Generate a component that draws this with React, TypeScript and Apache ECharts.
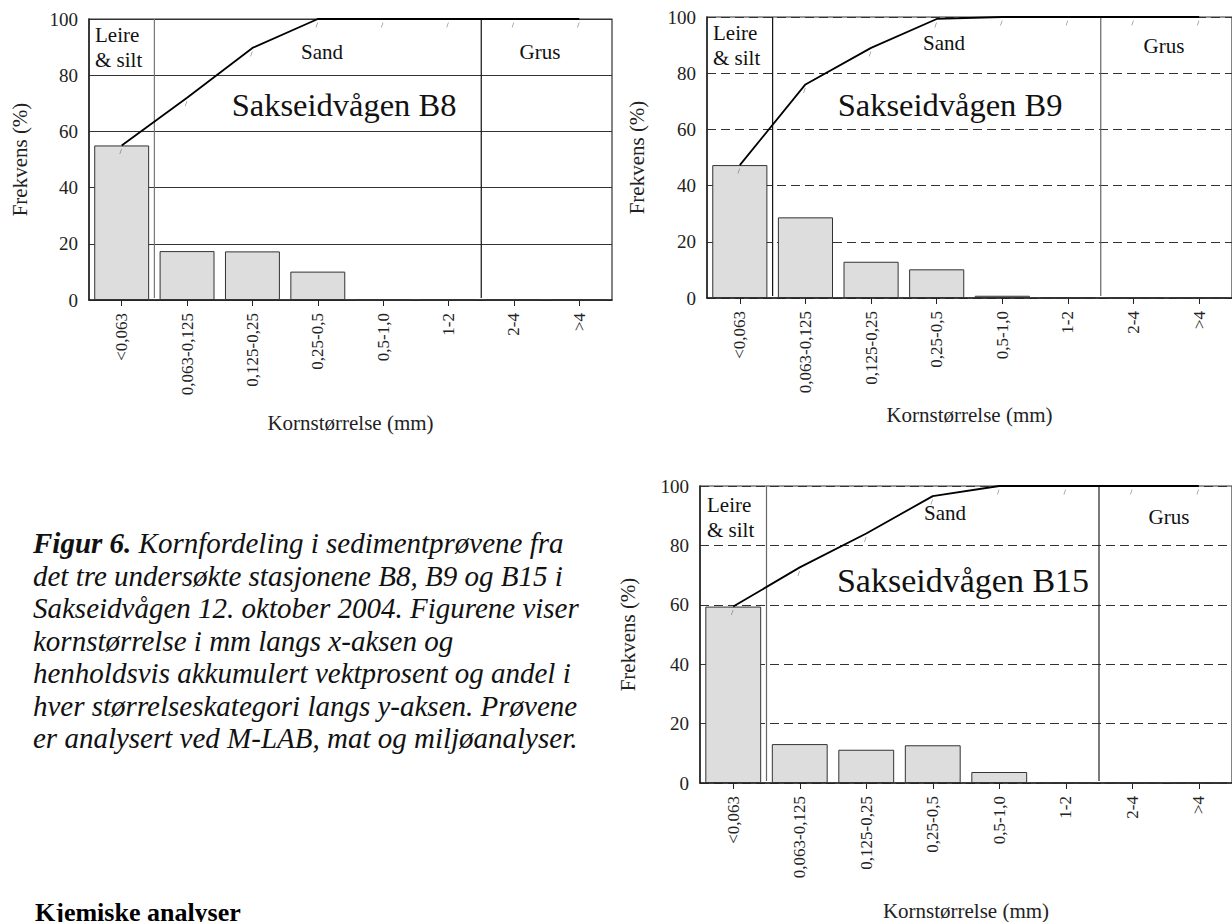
import React, { useEffect, useRef } from "react";
import * as echarts from "echarts";

// ---- data ----
const categories = ["<0,063", "0,063-0,125", "0,125-0,25", "0,25-0,5", "0,5-1,0", "1-2", "2-4", ">4"];

const b8Freq = [55, 17.4, 17.3, 10.1, 0, 0, 0, 0];
const b8Cum = [55, 72, 89.7, 100, 100, 100, 100, 100];

const b9Freq = [47.3, 28.7, 12.9, 10.2, 0.8, 0, 0, 0];
const b9Cum = [47.3, 76, 89, 99.3, 100, 100, 100, 100];

const b15Freq = [59.4, 13.1, 11.2, 12.7, 3.7, 0, 0, 0];
const b15Cum = [59.4, 72.6, 84, 96.6, 100, 100, 100, 100];

const yTicks = { min: 0, max: 100, interval: 20 };
// class boundaries (in category units): Leire & silt | Sand | Grus
const dividerPositions = [1, 6];

const stationTitles = ["Sakseidvågen B8", "Sakseidvågen B9", "Sakseidvågen B15"];
const classLabels = { clay: "Leire\n& silt", sand: "Sand", gravel: "Grus" };
const xName = "Kornstørrelse (mm)";
const yName = "Frekvens (%)";

const captionLines = [
  "det tre undersøkte stasjonene B8, B9 og B15 i",
  "Sakseidvågen 12. oktober 2004. Figurene viser",
  "kornstørrelse i mm langs x-aksen og",
  "henholdsvis akkumulert vektprosent og andel i",
  "hver størrelseskategori langs y-aksen. Prøvene",
  "er analysert ved M-LAB, mat og miljøanalyser.",
];
const captionHead = "Figur 6.";
const captionFirst = " Kornfordeling i sedimentprøvene fra";
const heading = "Kjemiske analyser";

const FONT = "'Liberation Serif', 'Times New Roman', Times, serif";

type Panel = {
  freq: number[];
  cum: number[];
  left: number;
  top: number;
  width: number;
  height: number;
  dashed: boolean;
  xNameGap: number;
  yNameGap: number;
  dividerColors: string[];
};

const panels: Panel[] = [
  { freq: b8Freq, cum: b8Cum, left: 89, top: 19, width: 523, height: 281, dashed: false, xNameGap: 112, yNameGap: 59, dividerColors: ["#777", "#111"] },
  { freq: b9Freq, cum: b9Cum, left: 707, top: 17, width: 530, height: 281, dashed: true, xNameGap: 106, yNameGap: 60, dividerColors: ["#111", "#666"] },
  { freq: b15Freq, cum: b15Cum, left: 700, top: 486, width: 542, height: 298, dashed: true, xNameGap: 117, yNameGap: 62, dividerColors: ["#666", "#222"] },
];

function buildOption() {
  const grid = panels.map((p) => ({
    left: p.left,
    top: p.top,
    width: p.width,
    height: p.height,
    show: true,
    borderColor: "#333",
    borderWidth: 1.2,
    backgroundColor: "transparent",
    containLabel: false,
  }));

  const catAxes = panels.map((p, i) => ({
    type: "category",
    gridIndex: i,
    data: categories,
    boundaryGap: true,
    axisLine: { show: true, lineStyle: { color: "#222", width: 1.5 } },
    axisTick: { show: true, alignWithLabel: true, length: 6, lineStyle: { color: "#222", width: 1 } },
    axisLabel: { rotate: 90, margin: 13, interval: 0, fontSize: 17, fontFamily: FONT, color: "#222" },
    splitLine: { show: false },
    name: xName,
    nameLocation: "middle",
    nameGap: p.xNameGap,
    nameTextStyle: { fontSize: 21, fontFamily: FONT, color: "#222" },
  }));
  const valAxes = panels.map((_p, i) => ({
    type: "value",
    gridIndex: i,
    min: 0,
    max: categories.length,
    show: false,
  }));

  const yAxis = panels.map((p, i) => ({
    type: "value",
    gridIndex: i,
    min: yTicks.min,
    max: yTicks.max,
    interval: yTicks.interval,
    axisLine: { show: true, lineStyle: { color: "#222", width: 1.5 } },
    axisTick: { show: false },
    axisLabel: { margin: 11, fontSize: 19, fontFamily: FONT, color: "#222" },
    splitLine: {
      show: true,
      lineStyle: { color: "#333", width: 1.2, type: p.dashed ? [9, 5] : "solid" },
    },
    name: yName,
    nameLocation: "middle",
    nameRotate: 90,
    nameGap: p.yNameGap,
    nameTextStyle: { fontSize: 21, fontFamily: FONT, color: "#222" },
  }));

  const series: any[] = [];
  panels.forEach((p, i) => {
    series.push({
      type: "bar",
      xAxisIndex: i,
      yAxisIndex: i,
      data: p.freq,
      barCategoryGap: "16%",
      itemStyle: { color: "#dddddd", borderColor: "#333", borderWidth: 1 },
      z: 2,
      silent: true,
    });
    series.push({
      type: "line",
      xAxisIndex: i,
      yAxisIndex: i,
      data: p.cum,
      symbol: "none",
      lineStyle: { color: "#000", width: 1.8 },
      z: 4,
      silent: true,
    });
    series.push({
      type: "scatter",
      xAxisIndex: i,
      yAxisIndex: i,
      data: p.cum,
      symbol: "path://M1.6,0 L2.2,0 L0.6,10 L0,10 Z",
      symbolSize: [2.4, 5],
      symbolOffset: [-1, 6],
      itemStyle: { color: "#666" },
      z: 3,
      silent: true,
    });
    dividerPositions.forEach((d, k) => {
      series.push({
        type: "line",
        xAxisIndex: panels.length + i,
        yAxisIndex: i,
        data: [
          [d, 0.7],
          [d, 100],
        ],
        symbol: "none",
        lineStyle: { color: p.dividerColors[k], width: 1.2 },
        z: 3,
        silent: true,
      });
    });
  });

  const txt = (x: number, y: number, text: string, size: number, align = "center", extra: any = {}) => ({
    type: "text",
    x,
    y,
    silent: true,
    style: {
      text,
      fontSize: size,
      fontFamily: FONT,
      fill: "#111",
      align,
      verticalAlign: "middle",
      lineHeight: 25,
      ...extra,
    },
  });

  const CAP = 29;
  const LH = 32.5;

  const graphic: any[] = [
    // B8
    txt(95, 47.5, classLabels.clay, 21, "left"),
    txt(322, 52, classLabels.sand, 21),
    txt(540, 52, classLabels.gravel, 21),
    txt(344, 105, stationTitles[0], 32.5, "center", { lineHeight: 36 }),
    // B9
    txt(713, 45.5, classLabels.clay, 21, "left"),
    txt(944, 43, classLabels.sand, 21),
    txt(1164, 46, classLabels.gravel, 21),
    txt(950, 105, stationTitles[1], 32.5, "center", { lineHeight: 36 }),
    // B15
    txt(707, 517.5, classLabels.clay, 21, "left"),
    txt(945, 513, classLabels.sand, 21),
    txt(1169, 517, classLabels.gravel, 21),
    txt(963, 580, stationTitles[2], 34, "center", { lineHeight: 38 }),
    // caption
    {
      type: "text",
      x: 33,
      y: 543 - LH / 2,
      silent: true,
      style: {
        text:
          "{b|" + captionHead + "}{i|" + captionFirst + "}\n" +
          captionLines.map((l) => "{i|" + l + "}").join("\n"),
        fontFamily: FONT,
        fontSize: CAP,
        lineHeight: LH,
        fill: "#111",
        align: "left",
        verticalAlign: "top",
        rich: {
          b: { fontFamily: FONT, fontSize: CAP, fontStyle: "italic", fontWeight: "bold", lineHeight: LH, fill: "#111" },
          i: { fontFamily: FONT, fontSize: CAP, fontStyle: "italic", lineHeight: LH, fill: "#111" },
        },
      },
    },
    {
      type: "text",
      x: 35,
      y: 899,
      silent: true,
      style: {
        text: heading,
        fontFamily: FONT,
        fontSize: 26,
        fontWeight: "bold",
        fill: "#000",
        align: "left",
        verticalAlign: "top",
      },
    },
  ];

  return {
    animation: false,
    backgroundColor: "#ffffff",
    grid,
    xAxis: [...catAxes, ...valAxes],
    yAxis,
    series,
    graphic,
  };
}

export default function App() {
  const ref = useRef<HTMLDivElement>(null);
  useEffect(() => {
    if (!ref.current) return;
    const chart = echarts.init(ref.current, null, { renderer: "svg" });
    chart.setOption(buildOption() as any);
    return () => {
      chart.dispose();
    };
  }, []);
  return (
    <div
      ref={ref}
      style={{ position: "fixed", left: 0, top: 0, width: 1232, height: 922, background: "#fff" }}
    />
  );
}
